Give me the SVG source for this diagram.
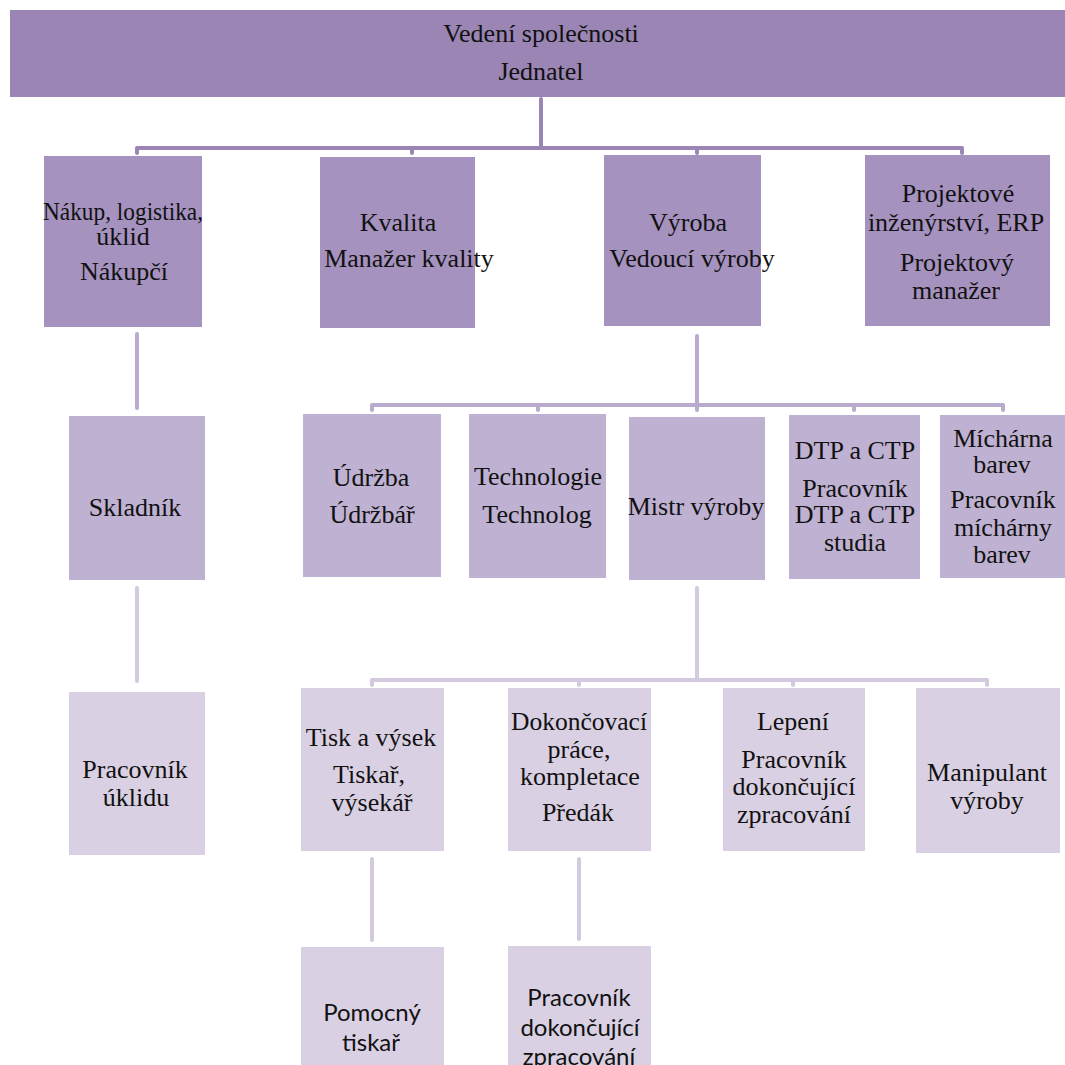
<svg xmlns="http://www.w3.org/2000/svg" width="1065" height="1065" viewBox="0 0 1065 1065">
  <style>
    .l0 { fill: #9a85b4; }
    .l1 { fill: #a592bf; }
    .l2 { fill: #bfb1d2; }
    .l3 { fill: #d9d0e3; }
    .t { font-family: 'Liberation Serif', 'DejaVu Serif', serif; font-size: 26px; fill: #111; text-anchor: middle; }
    .s { font-family: Lato, 'Liberation Sans', sans-serif; font-size: 24px; fill: #111; text-anchor: middle; }
    .c1 { fill: none; stroke: #9a85b4; stroke-width: 4; stroke-linecap: round; stroke-linejoin: round; }
    .c2 { fill: none; stroke: #b9abcd; stroke-width: 4; stroke-linecap: round; stroke-linejoin: round; }
    .c3 { fill: none; stroke: #d3cadf; stroke-width: 4; stroke-linecap: round; stroke-linejoin: round; }
  </style>

  <g id="connectors">
    <!-- management to departments -->
    <path class="c1" d="M541 99 V148"/>
    <path class="c1" d="M137 153 V148 H962 V153"/>
    <path class="c1" d="M412 148 V153 M697 148 V153"/>
    <!-- purchasing chain -->
    <path class="c2" d="M137 334 V408"/>
    <path class="c3" d="M137 588 V681"/>
    <!-- production to its sections -->
    <path class="c2" d="M697 336 V404"/>
    <path class="c2" d="M372 410 V405 H1003 V410"/>
    <path class="c2" d="M538 405 V410 M697 405 V410 M854 405 V410"/>
    <!-- foreman to workshops -->
    <path class="c3" d="M697 588 V680"/>
    <path class="c3" d="M372 685 V680 H987 V685"/>
    <path class="c3" d="M579 680 V685 M793 680 V685"/>
    <!-- workshops to helpers -->
    <path class="c3" d="M372 859 V940"/>
    <path class="c3" d="M579 859 V939"/>
  </g>

  <g id="vedeni" class="t">
    <rect class="l0" x="10" y="10" width="1055" height="87"/>
    <text x="541" y="42">Vedení  společnosti</text>
    <text x="541" y="80">Jednatel</text>
  </g>

  <g id="nakup" class="t">
    <rect class="l1" x="44" y="156" width="158" height="171"/>
    <text x="123" y="220" textLength="160" lengthAdjust="spacingAndGlyphs">Nákup, logistika,</text>
    <text x="123" y="245">úklid</text>
    <text x="124" y="280">Nákupčí</text>
  </g>

  <g id="kvalita" class="t">
    <rect class="l1" x="320" y="157" width="155" height="171"/>
    <text x="398" y="231">Kvalita</text>
    <text x="409" y="267">Manažer kvality</text>
  </g>

  <g id="vyroba" class="t">
    <rect class="l1" x="604" y="155" width="157" height="171"/>
    <text x="688" y="231">Výroba</text>
    <text x="692" y="267">Vedoucí  výroby</text>
  </g>

  <g id="projektove" class="t">
    <rect class="l1" x="865" y="155" width="185" height="171"/>
    <text x="958" y="202">Projektové</text>
    <text x="956" y="231">inženýrství,  ERP</text>
    <text x="957" y="271">Projektový</text>
    <text x="956" y="299">manažer</text>
  </g>

  <g id="skladnik" class="t">
    <rect class="l2" x="69" y="416" width="136" height="164"/>
    <text x="135" y="516">Skladník</text>
  </g>

  <g id="pracovnik-uklidu" class="t">
    <rect class="l3" x="69" y="692" width="136" height="163"/>
    <text x="135" y="778">Pracovník</text>
    <text x="136" y="806">úklidu</text>
  </g>

  <g id="udrzba" class="t">
    <rect class="l2" x="303" y="414" width="138" height="163"/>
    <text x="371" y="486">Údržba</text>
    <text x="372" y="523">Údržbář</text>
  </g>

  <g id="technologie" class="t">
    <rect class="l2" x="469" y="414" width="137" height="164"/>
    <text x="538" y="485">Technologie</text>
    <text x="537" y="523">Technolog</text>
  </g>

  <g id="mistr" class="t">
    <rect class="l2" x="629" y="417" width="136" height="163"/>
    <text x="696" y="515">Mistr výroby</text>
  </g>

  <g id="dtp" class="t">
    <rect class="l2" x="789" y="415" width="131" height="164"/>
    <text x="855" y="459">DTP a CTP</text>
    <text x="855" y="497">Pracovník</text>
    <text x="855" y="523">DTP a CTP</text>
    <text x="855" y="551">studia</text>
  </g>

  <g id="micharna" class="t">
    <rect class="l2" x="940" y="415" width="125" height="163"/>
    <text x="1003" y="447">Míchárna</text>
    <text x="1002" y="473">barev</text>
    <text x="1003" y="508">Pracovník</text>
    <text x="1003" y="536">míchárny</text>
    <text x="1002" y="563">barev</text>
  </g>

  <g id="tisk" class="t">
    <rect class="l3" x="301" y="688" width="143" height="163"/>
    <text x="371" y="746">Tisk a výsek</text>
    <text x="369" y="783">Tiskař,</text>
    <text x="372" y="811">výsekář</text>
  </g>

  <g id="dokoncovaci" class="t">
    <rect class="l3" x="508" y="688" width="143" height="163"/>
    <text x="579" y="730" textLength="136" lengthAdjust="spacingAndGlyphs">Dokončovací</text>
    <text x="579" y="758">práce,</text>
    <text x="580" y="785">kompletace</text>
    <text x="578" y="821">Předák</text>
  </g>

  <g id="lepeni" class="t">
    <rect class="l3" x="723" y="688" width="142" height="163"/>
    <text x="793" y="730">Lepení</text>
    <text x="794" y="768">Pracovník</text>
    <text x="794" y="795">dokončující</text>
    <text x="794" y="823">zpracování</text>
  </g>

  <g id="manipulant" class="t">
    <rect class="l3" x="916" y="688" width="144" height="165"/>
    <text x="987" y="781">Manipulant</text>
    <text x="987" y="809">výroby</text>
  </g>

  <g id="pomocny-tiskar" class="s">
    <rect class="l3" x="301" y="947" width="143" height="118"/>
    <text x="372" y="1021">Pomocný</text>
    <text x="371" y="1051">tiskař</text>
  </g>

  <g id="pracovnik-dokoncujici" class="s">
    <rect class="l3" x="508" y="946" width="143" height="119"/>
    <text x="579" y="1006">Pracovník</text>
    <text x="580" y="1036">dokončující</text>
    <text x="579" y="1065">zpracování</text>
  </g>
</svg>
